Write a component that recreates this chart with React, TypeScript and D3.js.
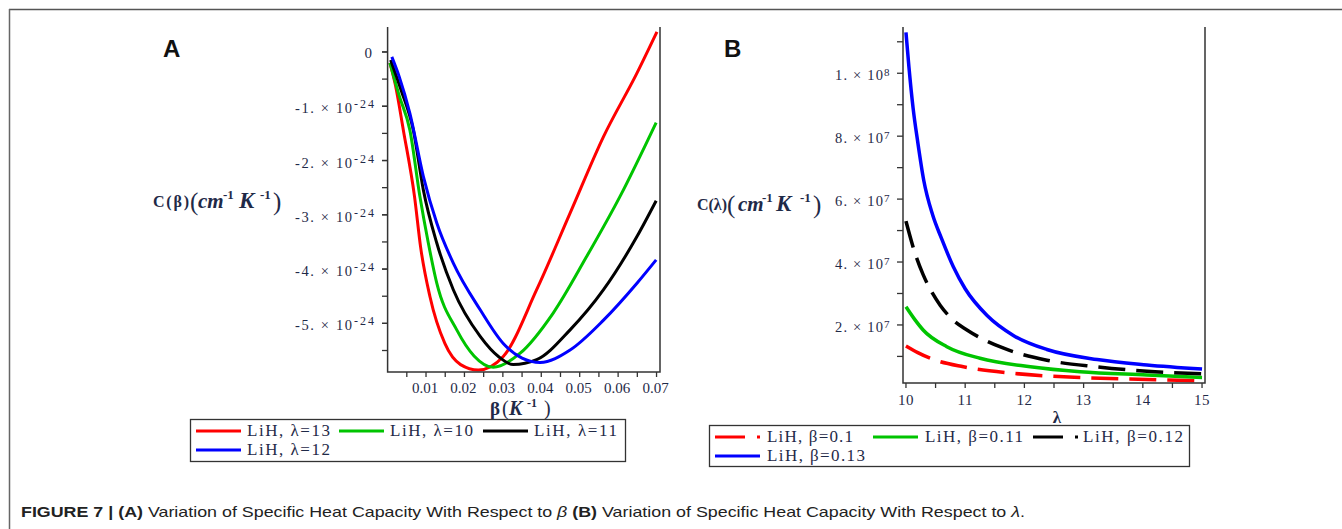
import React from "react";
import * as d3 from "d3";

// ---------- Panel A data: C(beta), values in units of 1e-24 ----------
const betaTicks = [0.01, 0.02, 0.03, 0.04, 0.05, 0.06, 0.07];
const cBetaTicks = [0, -1, -2, -3, -4, -5];
const lam13: [number, number][] = [[0.0006,-0.2],[0.002,-0.6],[0.0041,-1.44],[0.007,-2.66],[0.0086,-3.6],[0.011,-4.5],[0.0149,-5.37],[0.019,-5.76],[0.0236,-5.86],[0.0301,-5.61],[0.0388,-4.38],[0.0475,-2.97],[0.0562,-1.56],[0.0649,-0.39],[0.0701,0.37]];
const lam10: [number, number][] = [[0.0006,-0.2],[0.003,-0.8],[0.0058,-1.44],[0.0084,-2.66],[0.0106,-3.52],[0.0128,-4.26],[0.018,-5.12],[0.0225,-5.6],[0.0275,-5.81],[0.0345,-5.55],[0.0431,-4.81],[0.0518,-3.77],[0.0605,-2.66],[0.0699,-1.3]];
const lam11: [number, number][] = [[0.0008,-0.15],[0.0035,-0.7],[0.0067,-1.44],[0.0093,-2.54],[0.0128,-3.52],[0.0171,-4.38],[0.0241,-5.24],[0.029,-5.62],[0.0327,-5.76],[0.0388,-5.67],[0.0475,-5.12],[0.0562,-4.38],[0.0649,-3.4],[0.0699,-2.74]];
const lam12: [number, number][] = [[0.0011,-0.09],[0.003,-0.45],[0.0058,-1.13],[0.0093,-2.29],[0.0128,-3.15],[0.0171,-3.89],[0.0241,-4.75],[0.0301,-5.37],[0.035,-5.64],[0.0397,-5.72],[0.0475,-5.49],[0.0562,-4.94],[0.0649,-4.26],[0.0699,-3.83]];
const seriesA = [
  { label: "LiH, λ=13", color: "#ff0000", data: lam13 },
  { label: "LiH, λ=10", color: "#00c400", data: lam10 },
  { label: "LiH, λ=11", color: "#000000", data: lam11 },
  { label: "LiH, λ=12", color: "#0000ff", data: lam12 },
];

// ---------- Panel B data: C(lambda), values in units of 1e7 ----------
const lambdaTicks = [10, 11, 12, 13, 14, 15];
const cLambdaTicks = [2, 4, 6, 8, 10];
const cLambdaTickLabels = ["2. × 10", "4. × 10", "6. × 10", "8. × 10", "1. × 10"];
const cLambdaTickExp = ["7", "7", "7", "7", "8"];
const beta01: [number, number][] = [[10,1.33],[10.2,1.12],[10.41,0.94],[10.97,0.67],[11.82,0.46],[12.94,0.33],[14.07,0.27],[15,0.22]];
const beta011: [number, number][] = [[10,2.58],[10.15,2.17],[10.29,1.84],[10.69,1.31],[11.25,0.94],[12.1,0.67],[12.94,0.51],[14.07,0.41],[15,0.33]];
const beta012: [number, number][] = [[10,5.3],[10.15,4.3],[10.29,3.6],[10.45,3.0],[10.58,2.62],[10.8,2.15],[11.03,1.84],[11.65,1.26],[12.38,0.88],[13.23,0.67],[14.07,0.53],[15,0.45]];
const beta013: [number, number][] = [[10,11.3],[10.05,10.2],[10.12,8.9],[10.2,7.8],[10.3,6.6],[10.45,5.5],[10.6,4.75],[10.8,3.85],[11.0,3.15],[11.37,2.3],[11.82,1.66],[12.38,1.22],[13.23,0.9],[14.07,0.73],[15,0.6]];
const seriesB = [
  { label: "LiH, β=0.1", color: "#ff0000", data: beta01, dash: true },
  { label: "LiH, β=0.11", color: "#00c400", data: beta011, dash: false },
  { label: "LiH, β=0.12", color: "#000000", data: beta012, dash: true },
  { label: "LiH, β=0.13", color: "#0000ff", data: beta013, dash: false },
];

const TXT = "#1f2a48";
const SERIF = "'Liberation Serif', 'DejaVu Serif', serif";
const SANS = "'Liberation Sans', Arial, sans-serif";

function UnitLabel({ x, y, head, headLen }: { x: number[]; y: number; head: string; headLen: number }) {
  return (
    <g fill={TXT} fontFamily={SERIF} fontWeight="bold">
      <text x={x[0]} y={y - 1} fontSize={16} textLength={headLen} lengthAdjust="spacing">{head}</text>
      <text x={x[1]} y={y + 2} fontSize={25} fontWeight="normal">(</text>
      <text x={x[2]} y={y} fontSize={21} fontStyle="italic">cm</text>
      <text x={x[3]} y={y - 9} fontSize={13}>-1</text>
      <text x={x[4]} y={y} fontSize={23} fontStyle="italic">K</text>
      <text x={x[5]} y={y - 9} fontSize={13}>-1</text>
      <text x={x[6]} y={y + 2} fontSize={25} fontWeight="normal">)</text>
    </g>
  );
}

export default function App() {
  // Panel A scales
  const xA = d3.scaleLinear().domain([0, 0.0709]).range([387.6, 660]);
  const yA = d3.scaleLinear().domain([-5.896, 0.46]).range([372, 27]);
  const lineA = d3.line<[number, number]>().x(d => xA(d[0])).y(d => yA(d[1])).curve(d3.curveMonotoneX);
  const xAMinor = d3.range(0.005, 0.0705, 0.005);
  const yAMinor = d3.range(-5.5, 0.2, 0.5);

  // Panel B scales
  const xB = d3.scaleLinear().domain([9.95, 15.05]).range([903, 1205]);
  const yB = d3.scaleLinear().domain([0.155, 11.47]).range([383, 27]);
  const lineB = d3.line<[number, number]>().x(d => xB(d[0])).y(d => yB(d[1])).curve(d3.curveMonotoneX);
  const xBMinor = d3.range(10, 15.01, 0.5);
  const yBMinor = d3.range(1, 11.5, 1);

  const [ax0, ax1] = xA.range();
  const [bx0, bx1] = xB.range();

  return (
    <svg width={1342} height={529} style={{ position: "absolute", left: 0, top: 0, background: "#fff" }}>
      <rect x={0} y={0} width={1342} height={529} fill="#fff" />
      {/* figure frame */}
      <line x1={9} y1={9.5} x2={1342} y2={9.5} stroke="#555" strokeWidth={1.5} />
      <line x1={9.5} y1={9} x2={9.5} y2={529} stroke="#666" strokeWidth={1.5} />

      {/* ================= Panel A ================= */}
      <text x={163} y={57} fontFamily={SANS} fontWeight="bold" fontSize={24} fill="#111">A</text>
      <defs>
        <clipPath id="clipA"><rect x={ax0} y={27} width={ax1 - ax0} height={345} /></clipPath>
        <clipPath id="clipB"><rect x={bx0} y={27} width={bx1 - bx0} height={356} /></clipPath>
      </defs>
      <g clipPath="url(#clipA)">
        {seriesA.map(s => (
          <path key={s.label} d={lineA(s.data) || ""} fill="none" stroke={s.color} strokeWidth={3} strokeLinejoin="round" />
        ))}
      </g>
      <path d={`M${ax0},27V372H${ax1}V27`} fill="none" stroke="#333" strokeWidth={1.5} />
      {cBetaTicks.map(v => (
        <g key={"ya" + v} fill={TXT} fontFamily={SERIF}>
          <line x1={382} x2={ax0} y1={yA(v)} y2={yA(v)} stroke="#333" strokeWidth={1.3} />
          {v === 0 ? (
            <text x={372} y={yA(v) + 6} textAnchor="end" fontSize={15}>0</text>
          ) : (
            <>
              <text x={295} y={yA(v) + 7} fontSize={14.5} textLength={57} lengthAdjust="spacing">{`${v}. × 10`}</text>
              <text x={354} y={yA(v) + 2} fontSize={12} textLength={20} lengthAdjust="spacing">-24</text>
            </>
          )}
        </g>
      ))}
      {yAMinor.map(v => (
        <line key={"yam" + v} x1={382} x2={ax0} y1={yA(v)} y2={yA(v)} stroke="#333" strokeWidth={1.3} />
      ))}
      {xAMinor.map(v => (
        <line key={"xam" + v} x1={xA(v)} x2={xA(v)} y1={372} y2={377} stroke="#333" strokeWidth={1.3} />
      ))}
      {betaTicks.map(v => (
        <text key={"xa" + v} x={xA(v) - 1} y={393} textAnchor="middle" fontFamily={SERIF} fontSize={15} fill={TXT}>{v.toFixed(2)}</text>
      ))}
      <g fill={TXT} fontFamily={SERIF} fontWeight="bold">
        <text x={490} y={415} fontSize={19}>β</text>
        <text x={502} y={415} fontSize={20} fontWeight="normal">(</text>
        <text x={509} y={415} fontSize={20} fontStyle="italic">K</text>
        <text x={527} y={407} fontSize={12}>-1</text>
        <text x={544} y={415} fontSize={20} fontWeight="normal">)</text>
      </g>
      <UnitLabel x={[153, 190, 198, 223, 239, 260, 273]} y={208} head="C(β)" headLen={36} />
      {/* legend A */}
      <rect x={190.5} y={419.5} width={435} height={42} fill="#fff" stroke="#333" strokeWidth={1.3} />
      {seriesA.map((s, i) => {
        const pos = [[196, 431], [339, 431], [483, 431], [196, 450]][i];
        return (
          <g key={"la" + i}>
            <line x1={pos[0]} x2={pos[0] + 45} y1={pos[1]} y2={pos[1]} stroke={s.color} strokeWidth={3} />
            <text x={pos[0] + 51} y={pos[1] + 5} fontFamily={SERIF} fontSize={17} textLength={83} lengthAdjust="spacing" fill={TXT}>{s.label}</text>
          </g>
        );
      })}

      {/* ================= Panel B ================= */}
      <text x={724} y={57} fontFamily={SANS} fontWeight="bold" fontSize={24} fill="#111">B</text>
      <g clipPath="url(#clipB)">
        {seriesB.map(s => (
          <path key={s.label} d={lineB(s.data) || ""} fill="none" stroke={s.color} strokeWidth={3.5}
            strokeDasharray={s.dash ? "27 11" : undefined} />
        ))}
      </g>
      <path d={`M${bx0},27V383H${bx1}V27`} fill="none" stroke="#333" strokeWidth={1.5} />
      {cLambdaTicks.map((v, i) => (
        <g key={"yb" + v} fill={TXT} fontFamily={SERIF}>
          <text x={835} y={yB(v) + 7} fontSize={14.5} textLength={48} lengthAdjust="spacing">{cLambdaTickLabels[i]}</text>
          <text x={884} y={yB(v) + 3} fontSize={11}>{cLambdaTickExp[i]}</text>
        </g>
      ))}
      {yBMinor.map(v => (
        <line key={"ybm" + v} x1={897} x2={bx0} y1={yB(v)} y2={yB(v)} stroke="#333" strokeWidth={1.3} />
      ))}
      {xBMinor.map(v => (
        <line key={"xbm" + v} x1={xB(v)} x2={xB(v)} y1={383} y2={388} stroke="#333" strokeWidth={1.3} />
      ))}
      {lambdaTicks.map(v => (
        <text key={"xb" + v} x={xB(v)} y={405} textAnchor="middle" fontFamily={SERIF} fontSize={15} letterSpacing={0.5} fill={TXT}>{v}</text>
      ))}
      <text x={1057} y={423} textAnchor="middle" fontFamily={SERIF} fontWeight="bold" fontSize={17} fill={TXT}>λ</text>
      <UnitLabel x={[697, 727, 738, 762, 776, 800, 813]} y={211} head="C(λ)" headLen={30} />
      {/* legend B */}
      <rect x={709.5} y={425.5} width={480} height={41} fill="#fff" stroke="#333" strokeWidth={1.3} />
      {seriesB.map((s, i) => {
        const pos = [[715, 437], [873, 437], [1033, 437], [715, 456]][i];
        const tl = [86, 98, 100, 98][i];
        const tx = [767, 925, 1083, 767][i];
        return (
          <g key={"lb" + i}>
            <line x1={pos[0]} x2={pos[0] + 45} y1={pos[1]} y2={pos[1]} stroke={s.color} strokeWidth={3}
              strokeDasharray={s.dash ? "30 12" : undefined} />
            <text x={tx} y={pos[1] + 5} fontFamily={SERIF} fontSize={17} textLength={tl} lengthAdjust="spacing" fill={TXT}>{s.label}</text>
          </g>
        );
      })}

      {/* caption */}
      <text x={21} y={517} fontFamily={SANS} fontSize={15} fill="#222" textLength={1004} lengthAdjust="spacingAndGlyphs">
        <tspan fontWeight="bold">FIGURE 7 | (A)</tspan>
        <tspan> Variation of Specific Heat Capacity With Respect to </tspan>
        <tspan fontStyle="italic">β</tspan>
        <tspan fontWeight="bold"> (B)</tspan>
        <tspan> Variation of Specific Heat Capacity With Respect to </tspan>
        <tspan fontStyle="italic">λ</tspan>
        <tspan>.</tspan>
      </text>
    </svg>
  );
}
